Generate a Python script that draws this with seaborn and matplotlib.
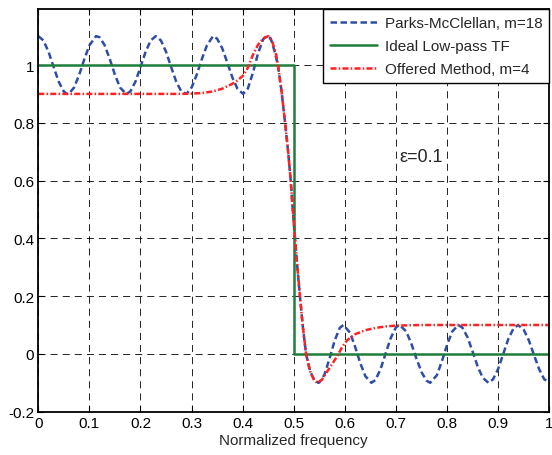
import matplotlib
matplotlib.use("Agg")
import matplotlib.pyplot as plt
import seaborn as sns

# Parks-McClellan, m=18
pm_x = [0.00, 0.01, 0.02, 0.03, 0.04, 0.05, 0.056, 0.06, 0.07, 0.08, 0.09, 0.10, 0.113,
        0.12, 0.13, 0.14, 0.15, 0.16, 0.172, 0.18, 0.19, 0.20, 0.21, 0.22, 0.23,
        0.24, 0.25, 0.26, 0.27, 0.28, 0.29, 0.30, 0.31, 0.32, 0.33, 0.342,
        0.35, 0.36, 0.37, 0.38, 0.39, 0.401, 0.41, 0.42, 0.43, 0.44, 0.447,
        0.455, 0.462, 0.469, 0.476, 0.483, 0.489, 0.494, 0.498, 0.501, 0.506, 0.512,
        0.518, 0.524, 0.532, 0.540, 0.548,
        0.55, 0.56, 0.57, 0.58, 0.59, 0.597, 0.61, 0.62, 0.63, 0.64, 0.652,
        0.66, 0.67, 0.68, 0.69, 0.70, 0.707, 0.72, 0.73, 0.74, 0.75, 0.76, 0.767,
        0.78, 0.79, 0.80, 0.81, 0.822, 0.83, 0.84, 0.85, 0.86, 0.87, 0.881,
        0.89, 0.90, 0.91, 0.92, 0.93, 0.939, 0.95, 0.96, 0.97, 0.98, 0.99, 1.00]
pm_y = [1.100, 1.085, 1.046, 0.993, 0.942, 0.908, 0.900, 0.901, 0.922, 0.966, 1.020, 1.068, 1.100,
        1.096, 1.068, 1.020, 0.966, 0.922, 0.900, 0.908, 0.942, 0.993, 1.046, 1.085, 1.100,
        1.085, 1.046, 0.993, 0.942, 0.908, 0.900, 0.922, 0.966, 1.020, 1.068, 1.100,
        1.091, 1.058, 1.008, 0.956, 0.917, 0.900, 0.918, 0.973, 1.040, 1.089, 1.100,
        1.092, 1.050, 1.000, 0.910, 0.800, 0.700, 0.600, 0.500, 0.430, 0.320, 0.200,
        0.090, 0.000, -0.060, -0.090, -0.100,
        -0.099, -0.072, -0.016, 0.046, 0.090, 0.100, 0.074, 0.025, -0.031, -0.077, -0.100,
        -0.090, -0.052, 0.003, 0.056, 0.092, 0.100, 0.078, 0.036, -0.016, -0.063, -0.093, -0.100,
        -0.074, -0.025, 0.031, 0.077, 0.100, 0.091, 0.058, 0.008, -0.044, -0.083, -0.100,
        -0.088, -0.052, 0.000, 0.052, 0.088, 0.100, 0.084, 0.047, -0.003, -0.052, -0.087, -0.100]

# Ideal low-pass transfer function
ideal_x = [0.0, 0.5, 0.5, 1.0]
ideal_y = [1.0, 1.0, 0.0, 0.0]

# Offered method, m=4
om_x = [0.00, 0.10, 0.20, 0.28, 0.30, 0.32, 0.34, 0.36, 0.38, 0.39, 0.40, 0.41, 0.42, 0.43,
        0.44, 0.45, 0.458, 0.465, 0.469, 0.476, 0.483, 0.489, 0.494, 0.498, 0.501, 0.506,
        0.512, 0.518, 0.524, 0.532, 0.540, 0.546, 0.555, 0.565, 0.575, 0.585, 0.595, 0.605,
        0.62, 0.64, 0.66, 0.68, 0.70, 0.75, 1.00]
om_y = [0.900, 0.900, 0.900, 0.900, 0.901, 0.903, 0.908, 0.918, 0.935, 0.947, 0.962, 0.990, 1.035, 1.070,
        1.092, 1.100, 1.080, 1.040, 1.000, 0.910, 0.800, 0.700, 0.600, 0.500, 0.430, 0.320,
        0.200, 0.090, 0.000, -0.060, -0.092, -0.100, -0.090, -0.062, -0.035, -0.008, 0.025, 0.048,
        0.068, 0.082, 0.090, 0.095, 0.098, 0.100, 0.100]

labels = ["Parks-McClellan, m=18", "Ideal Low-pass TF", "Offered Method, m=4"]
x_ticks = [0, 0.1, 0.2, 0.3, 0.4, 0.5, 0.6, 0.7, 0.8, 0.9, 1]
x_tick_labels = ["0", "0.1", "0.2", "0.3", "0.4", "0.5", "0.6", "0.7", "0.8", "0.9", "1"]
y_ticks = [-0.2, 0, 0.2, 0.4, 0.6, 0.8, 1]
y_tick_labels = ["-0.2", "0", "0.2", "0.4", "0.6", "0.8", "1"]

sns.set_style("white")
plt.rcParams["font.family"] = ["Liberation Sans", "DejaVu Sans"]

fig = plt.figure(figsize=(5.52, 4.56), dpi=100)
ax = fig.add_axes([0.0694, 0.095, 0.9256, 0.8825])

sns.lineplot(x=pm_x, y=pm_y, ax=ax, color="#2e4ea6", linewidth=1.8,
             linestyle=(0, (2.6, 1.4)), sort=False, estimator=None, label=labels[0])
sns.lineplot(x=ideal_x, y=ideal_y, ax=ax, color="#1d7d3a", linewidth=1.8,
             linestyle="-", sort=False, estimator=None, label=labels[1])
sns.lineplot(x=om_x, y=om_y, ax=ax, color="#ff2222", linewidth=1.8,
             linestyle=(0, (2.4, 0.9, 0.6, 0.9)), sort=False, estimator=None, label=labels[2])

ax.set_xlim(0, 1)
ax.set_ylim(-0.2, 1.193)
ax.set_xticks(x_ticks)
ax.set_xticklabels(x_tick_labels)
ax.set_yticks(y_ticks)
ax.set_yticklabels(y_tick_labels)
ax.tick_params(direction="in", length=4, width=0.8, top=True, right=True,
               bottom=True, left=True, labelsize=11, colors="black", pad=3)
ax.grid(True, color="black", linestyle=(0, (8.5, 6)), linewidth=0.6)
for s in ax.spines.values():
    s.set_color("black")
    s.set_linewidth(1.3)

ax.set_xlabel("Normalized frequency", fontsize=11, labelpad=2)
ax.set_ylabel("")

ax.text(0.75, 0.685, "ε=0.1", fontsize=13, ha="center", va="center",
        bbox=dict(facecolor="white", edgecolor="none", pad=1))

leg = ax.legend(loc="upper right", borderaxespad=0, fontsize=11, handlelength=3.1,
                frameon=True, fancybox=False, framealpha=1, edgecolor="black",
                borderpad=0.45, labelspacing=0.6, handletextpad=0.5)
leg.get_frame().set_linewidth(1.0)

fig.savefig("out.png", dpi=100)
